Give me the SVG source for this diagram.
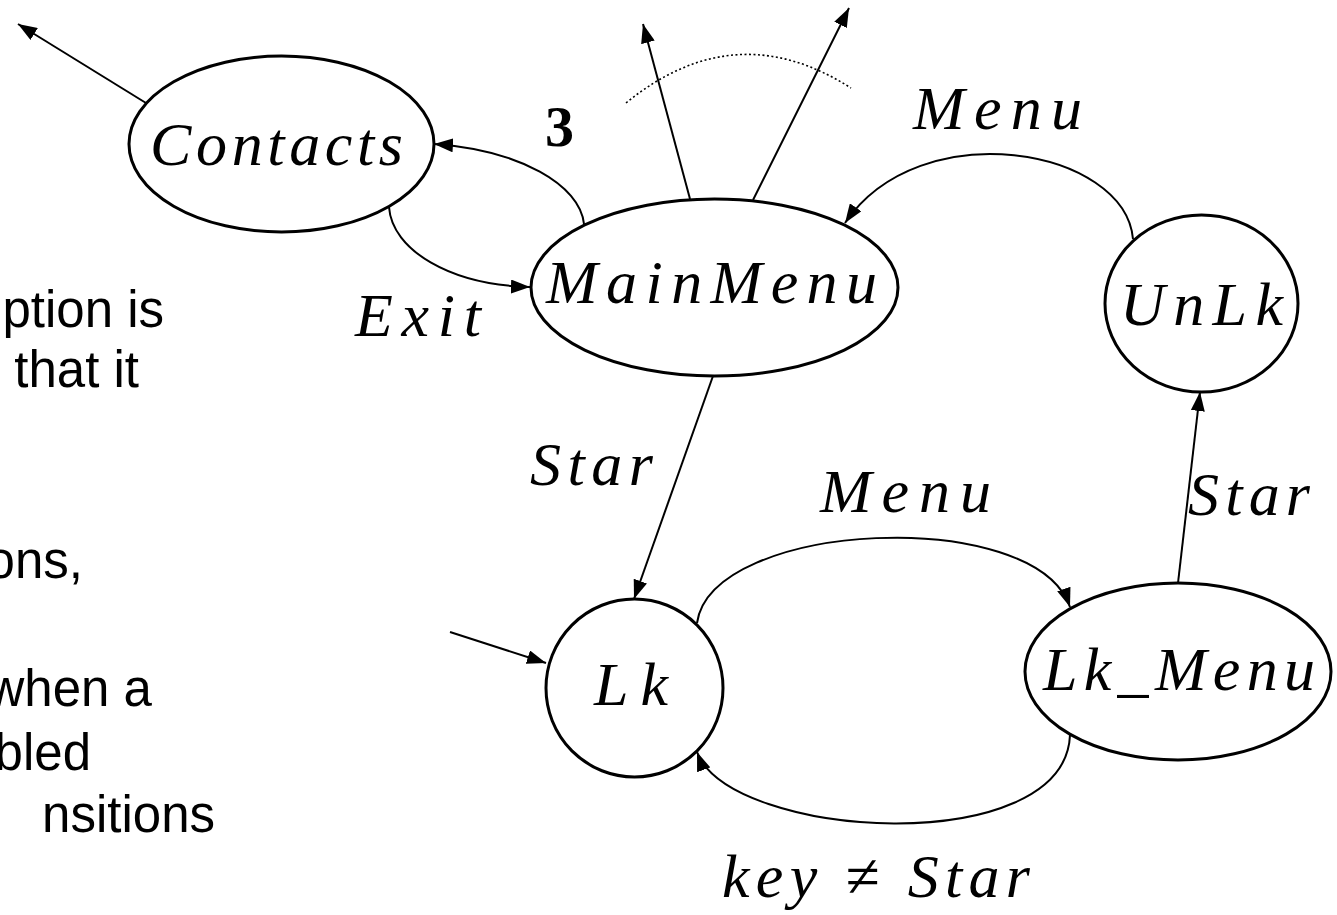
<svg xmlns="http://www.w3.org/2000/svg" width="1337" height="915" viewBox="0 0 1337 915">
<style>
.node{fill:#fff;stroke:#000;stroke-width:3}
.lbl{font-family:"Liberation Serif",serif;font-style:italic;font-size:62px;fill:#000}
.edge{fill:none;stroke:#000;stroke-width:2}
.dot{fill:none;stroke:#000;stroke-width:1.6;stroke-dasharray:2 2.5}
.side{font-family:"Liberation Sans",Arial,sans-serif;font-size:51px;fill:#000;text-anchor:end}
</style>
<defs>
<marker id="arr" markerUnits="userSpaceOnUse" markerWidth="20" markerHeight="14" refX="19" refY="7" orient="auto">
<path d="M0,0 L19,7 L0,14 z" fill="#000"/>
</marker>
</defs>
<rect width="1337" height="915" fill="#fff"/>
<g id="sidetext">
<text class="side" x="164" y="327">ption is</text>
<text class="side" x="139" y="387">that it</text>
<text class="side" x="83" y="578">ons,</text>
<text class="side" x="152" y="706">when a</text>
<text class="side" x="91" y="770">bled</text>
<text class="side" x="215" y="832">nsitions</text>
</g>
<g id="connectors">
<path class="edge" d="M146,103 L18,24" marker-end="url(#arr)"/>
<path class="edge" d="M584,224 C580,185 520,150 434,144" marker-end="url(#arr)"/>
<path class="edge" d="M389,207 C392,250 450,285 530,287" marker-end="url(#arr)"/>
<path class="edge" d="M690,199 L643,24" marker-end="url(#arr)"/>
<path class="edge" d="M753,200 L849,8" marker-end="url(#arr)"/>
<path class="dot" d="M626,103 Q735,14 851,88"/>
<path class="edge" d="M1133,239 C1125,148 920,112 845,223" marker-end="url(#arr)"/>
<path class="edge" d="M713,376 L634,599" marker-end="url(#arr)"/>
<path class="edge" d="M450,632 L546,663" marker-end="url(#arr)"/>
<path class="edge" d="M697,623 C712,520 1035,505 1070,607" marker-end="url(#arr)"/>
<path class="edge" d="M1070,735 C1065,860 730,840 697,752" marker-end="url(#arr)"/>
<path class="edge" d="M1178,583 L1200,392" marker-end="url(#arr)"/>
<text x="545" y="146" font-family="Liberation Serif,serif" font-weight="bold" font-size="58" fill="#000">3</text>
<text class="lbl" x="355" y="336" textLength="126" lengthAdjust="spacing">Exit</text>
<text class="lbl" x="913" y="129" textLength="169" lengthAdjust="spacing">Menu</text>
<text class="lbl" x="530" y="485" textLength="123" lengthAdjust="spacing">Star</text>
<text class="lbl" x="820" y="512" textLength="171" lengthAdjust="spacing">Menu</text>
<text class="lbl" x="1188" y="515" textLength="122" lengthAdjust="spacing">Star</text>
<text class="lbl" x="722" y="897" textLength="308" lengthAdjust="spacing">key<tspan font-style="normal"> ≠ </tspan>Star</text>
</g>
<g id="node-contacts">
<ellipse class="node" cx="281.5" cy="144" rx="152.5" ry="88"/>
<text class="lbl" x="150" y="165" textLength="253" lengthAdjust="spacing">Contacts</text>
</g>
<g id="node-mainmenu">
<ellipse class="node" cx="714.5" cy="287.5" rx="183.5" ry="88.5"/>
<text class="lbl" x="546" y="303" textLength="331" lengthAdjust="spacing">MainMenu</text>
</g>
<g id="node-unlk">
<ellipse class="node" cx="1201.5" cy="303.5" rx="96.5" ry="88.5"/>
<text class="lbl" x="1120" y="325" textLength="163" lengthAdjust="spacing">UnLk</text>
</g>
<g id="node-lk">
<ellipse class="node" cx="634.5" cy="688" rx="88.5" ry="89"/>
<text class="lbl" x="594" y="705" textLength="74" lengthAdjust="spacing">Lk</text>
</g>
<g id="node-lkmenu">
<ellipse class="node" cx="1178" cy="671.5" rx="153" ry="88.5"/>
<text class="lbl" x="1043" y="690" textLength="272" lengthAdjust="spacing">Lk_Menu</text>
</g>
</svg>
